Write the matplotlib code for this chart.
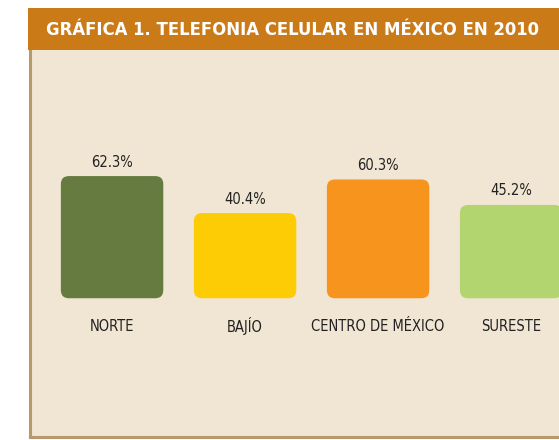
import matplotlib
matplotlib.use("Agg")
import matplotlib.pyplot as plt
from matplotlib.patches import FancyBboxPatch, Rectangle

regions = ["NORTE", "BAJÍO", "CENTRO DE MÉXICO", "SURESTE"]
values = [62.3, 40.4, 60.3, 45.2]
value_labels = ["62.3%", "40.4%", "60.3%", "45.2%"]
colors = ["#657b40", "#fdcc05", "#f7941d", "#b3d56f"]
title = "GRÁFICA 1. TELEFONIA CELULAR EN MÉXICO EN 2010"

W, H = 559, 440
FONT = "DejaVu Sans"
BASE = -10  # bars rise from slightly below zero, like the original


def px_box(x0, y0, x1, y1):
    # pixel box (top-left origin) -> figure fraction
    return [x0 / W, 1 - y1 / H, (x1 - x0) / W, (y1 - y0) / H]


def main():
    fig = plt.figure(figsize=(W / 100, H / 100), dpi=100)
    fig.patch.set_facecolor("white")

    # header band
    fig.patches.append(Rectangle((28 / W, 1 - 50 / H), 1, 42 / H,
                                 transform=fig.transFigure,
                                 facecolor="#cb7a18", edgecolor="none"))
    fig.text(46 / W, 1 - 30 / H, title, color="white", fontsize=13.2,
             fontweight="bold", family=FONT, fontstretch="condensed",
             va="center", ha="left")

    ax = fig.add_axes(px_box(30, 50, 559, 437))
    ax.set_facecolor("#f1e6d3")
    ax.set_xlim(-0.617, 3.36)
    ax.set_ylim(-92.1, 136.9)
    for side in ["top", "right"]:
        ax.spines[side].set_visible(False)
    for side in ["left", "bottom"]:
        ax.spines[side].set_color("#b8996e")
        ax.spines[side].set_linewidth(2.2)
    ax.set_xticks([])
    ax.set_yticks([])

    # pixel scale for rounded corners
    xpx = 529 / (3.36 + 0.617)
    ypx = 387 / (136.9 + 92.1)
    width = 0.77
    radius = 8 / xpx

    for i, (v, c) in enumerate(zip(values, colors)):
        box = FancyBboxPatch((i - width / 2, BASE), width, v - BASE,
                             boxstyle=f"round,pad=0,rounding_size={radius}",
                             mutation_aspect=xpx / ypx,
                             facecolor=c, edgecolor="none")
        ax.add_patch(box)
        ax.text(i, v + 14 / ypx, value_labels[i], ha="center", va="center",
                fontsize=10.5, family=FONT, fontstretch="condensed",
                color="#222222")
        ax.text(i, BASE - 28 / ypx, regions[i], ha="center", va="center",
                fontsize=10.5, family=FONT, fontstretch="condensed",
                color="#222222")

    fig.savefig("out.png", dpi=100)


if __name__ == "__main__":
    main()
